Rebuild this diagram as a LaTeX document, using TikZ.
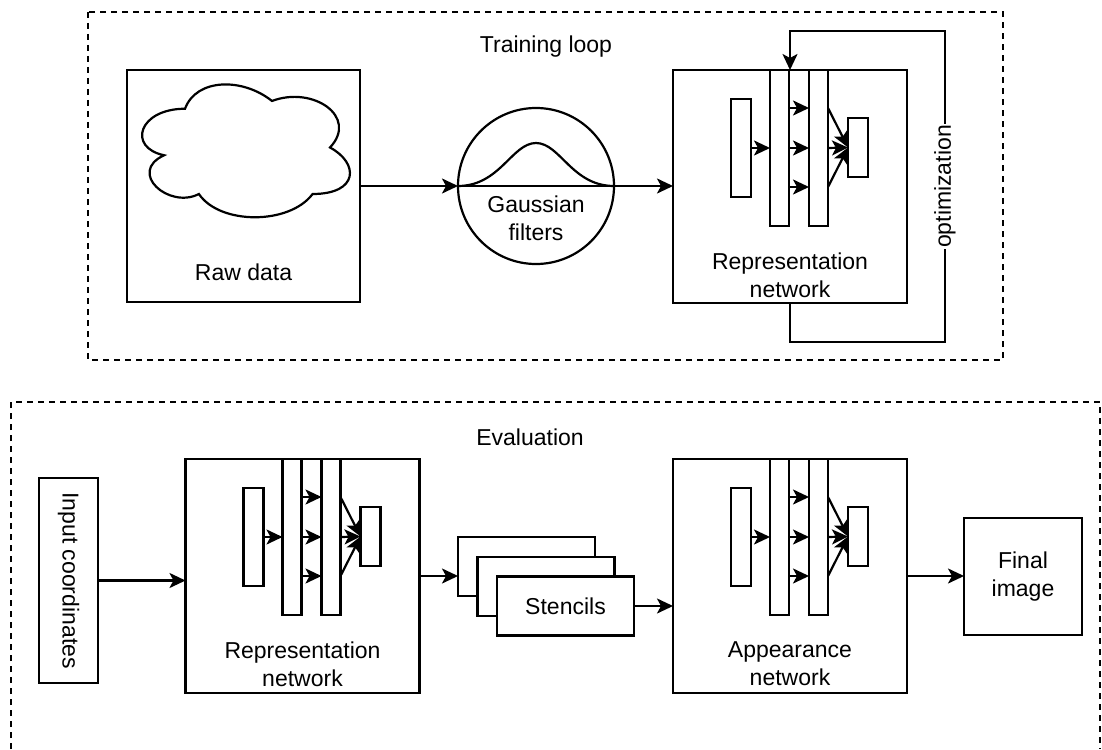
\documentclass[tikz,border=0pt]{standalone}
\usepackage{fontspec}
\setmainfont{Liberation Sans}
\usepackage{graphicx}
\usetikzlibrary{arrows.meta,calc}
\tikzset{
  box/.style={draw, fill=white, inner sep=0pt, outer sep=0pt, align=center},
  layer/.style={draw, fill=white, inner sep=0pt, outer sep=0pt},
  arr/.style={-{Stealth[length=16pt,width=15pt,inset=4pt]}},
  frame/.style={dash pattern=on 6pt off 5pt},
  lbl/.style={align=center, inner sep=0pt},
}
% small neural-network icon inside a box node #1
\newcommand{\mlpicon}[1]{%
  \node[layer, minimum width=20pt, minimum height=98pt] (#1-a) at ($(#1.north west)+(68,78)$) {};
  \node[layer, minimum width=19pt, minimum height=156pt] (#1-b) at ($(#1.north west)+(106.5,78)$) {};
  \node[layer, minimum width=19pt, minimum height=156pt] (#1-c) at ($(#1.north west)+(145.5,78)$) {};
  \node[layer, minimum width=20pt, minimum height=59pt] (#1-d) at ($(#1.north west)+(185,77.5)$) {};
  \draw[arr] (#1-a.east) -- (#1-a.east -| #1-b.west);
  \foreach \dy in {-40,0,39} {
    \draw[arr] ($(#1-b.east)+(0,\dy)$) -- ($(#1-c.west)+(0,\dy)$);
    \draw[arr] ($(#1-c.east)+(0,\dy)$) -- (#1-d.west);
  }
}
\begin{document}
\begin{tikzpicture}[x=1pt,y=-1pt,line width=2.2pt,font=\fontsize{23}{28}\selectfont]
\useasboundingbox (0,0) rectangle (1102,749);

% frames
\draw[frame] (88,12) rectangle (1003,360);
\node[lbl] (tl) at (546,47) {Training loop};
\draw[frame] (11,749) -- (11,402) -- (1100,402) -- (1100,749);
\node[lbl] (ev) at (530,437) {Evaluation};

% ---------- training loop ----------
\node[box, minimum width=233pt, minimum height=232pt] (rawbox) at (243.5,186) {};
\begin{scope}[shift={(rawbox.north west)}, x=232pt, y=-155pt]
\draw (0.25,0.25) .. controls (0.05,0.25) and (0,0.5) .. (0.16,0.55)
  .. controls (0,0.66) and (0.18,0.9) .. (0.31,0.8)
  .. controls (0.4,1) and (0.7,1) .. (0.8,0.8)
  .. controls (1,0.8) and (1,0.6) .. (0.875,0.5)
  .. controls (1,0.3) and (0.8,0.1) .. (0.625,0.2)
  .. controls (0.5,0.05) and (0.3,0.05) .. (0.25,0.25) -- cycle;
\end{scope}
\node[lbl] (rawlbl) at ($(rawbox.north)+(0,202)$) {Raw data};

\node[circle, draw, minimum size=156pt, inner sep=0pt, outer sep=0pt] (gauss) at (536,186) {};
\draw (gauss.west) -- (gauss.east);
\draw (gauss.west) .. controls +(42,0) and +(-24,0) .. ($(gauss.center)+(0,-43)$)
      .. controls +(24,0) and +(-42,0) .. (gauss.east);
\node[lbl] (gausslbl) at ($(gauss.center)+(0,32)$) {Gaussian\\filters};

\node[box, minimum width=234pt, minimum height=233pt] (rep1) at (790,186.5) {};
\node[lbl] (rep1lbl) at ($(rep1.north)+(0,205)$) {Representation\\network};
\mlpicon{rep1}

\draw[arr] (rawbox.east) -- (gauss.west);
\draw[arr] (gauss.east) -- (gauss.east -| rep1.west);

\coordinate (loopBL) at (790,342);
\coordinate (loopBR) at (945,342);
\coordinate (loopTR) at (945,31);
\coordinate (loopTL) at (790,31);
\draw[arr] (rep1.south) -- (loopBL) -- (loopBR)
  -- node[rotate=90, fill=white, inner sep=1pt] (opt) {optimization} (loopTR)
  -- (loopTL) -- (rep1.north);

% ---------- evaluation ----------
\node[box, minimum width=59pt, minimum height=205pt] (inp) at (68.5,580.5) {\rotatebox{-90}{Input coordinates}};

\node[box, minimum width=234pt, minimum height=234pt] (rep2) at (302.5,576) {};
\node[lbl] (rep2lbl) at ($(rep2.north)+(0,205)$) {Representation\\network};
\mlpicon{rep2}

\node[box, minimum width=137pt, minimum height=59pt] (st1) at (526.5,566.5) {};
\node[box, minimum width=137pt, minimum height=59pt] (st2) at (546,586.5) {};
\node[box, minimum width=137pt, minimum height=59pt] (st3) at (565.5,606) {Stencils};

\node[box, minimum width=234pt, minimum height=234pt] (app) at (790,576) {};
\node[lbl] (applbl) at ($(app.north)+(0,205)$) {Appearance\\network};
\mlpicon{app}

\node[box, minimum width=118pt, minimum height=117pt] (final) at (1023,576.5) {Final\\image};

\draw[arr] (inp.east) -- (inp.east -| rep2.west);
\draw[arr] (rep2.east) -- (rep2.east -| st1.west);
\draw[arr] (st3.east) -- (st3.east -| app.west);
\draw[arr] (app.east) -- (app.east -| final.west);
\end{tikzpicture}
\end{document}
